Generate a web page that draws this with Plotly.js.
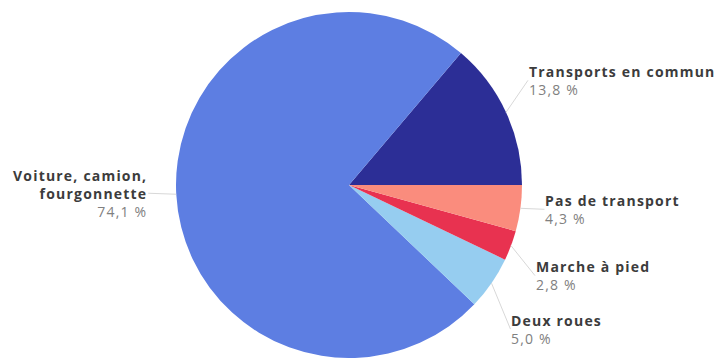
<!DOCTYPE html>
<html>
<head>
<meta charset="utf-8">
<script src="https://cdn.plot.ly/plotly-3.0.1.min.js"></script>
<style>
  html, body { margin: 0; padding: 0; background: #fff; }
  #chart { width: 722px; height: 358px; }
  .annotation-text { letter-spacing: 1.2px; }
</style>
</head>
<body>
<div id="chart"></div>
<script>
// Data (counterclockwise from 3 o'clock)
const categories = ["Transports en commun", "Voiture, camion,<br>fourgonnette", "Deux roues", "Marche à pied", "Pas de transport"];
const values = [13.8, 74.1, 5.0, 2.8, 4.3];
const valueLabels = ["13,8 %", "74,1 %", "5,0 %", "2,8 %", "4,3 %"];
const colors = ["#2c2e96", "#5d7ee2", "#96cdf0", "#e83250", "#fa8c7d"];

// Label layout (pixel offsets from slice edge to label)
const labelOffsets = [
  {ax: 22, ay: -32, side: "left"},
  {ax: -28, ay: -1, side: "right"},
  {ax: 19, ay: 46, side: "left"},
  {ax: 24, ay: 30, side: "left"},
  {ax: 24, ay: 1, side: "left"}
];

const W = 722, H = 358;
const domX = [176 / W, 522 / W];
const domY = [0, 1 - 12 / H];

const cxPx = (domX[0] + domX[1]) / 2 * W;
const cyPx = H - (domY[0] + domY[1]) / 2 * H;
const rPx = Math.min((domX[1] - domX[0]) * W, (domY[1] - domY[0]) * H) / 2;

const total = values.reduce((a, b) => a + b, 0);
let cum = 0;
const annotations = values.map((v, i) => {
  const mid = (cum + v / 2) / total * 2 * Math.PI;
  cum += v;
  const px = cxPx + rPx * Math.cos(mid);
  const py = cyPx - rPx * Math.sin(mid);
  const o = labelOffsets[i];
  return {
    xref: "paper", yref: "paper",
    x: px / W, y: 1 - py / H,
    ax: o.ax, ay: o.ay,
    showarrow: true, arrowhead: 0, arrowwidth: 1, arrowcolor: "#d8d8d8",
    xanchor: o.side, yanchor: "middle",
    align: o.side,
    borderpad: 0,
    text: "<b>" + categories[i] + "</b><br><span style=\"color:#808080\">" + valueLabels[i] + "</span>",
    font: {family: "Open Sans, sans-serif", size: 14, color: "#3c3c3c"}
  };
});

// Plotly's counterclockwise mode places the first slice clockwise of `rotation`;
// shift so the first slice starts at 3 o'clock and opens counterclockwise.
const rotation = 90 - values[0] / total * 360;

const trace = {
  type: "pie",
  labels: categories,
  values: values,
  sort: false,
  direction: "counterclockwise",
  rotation: rotation,
  textinfo: "none",
  hoverinfo: "label+percent",
  marker: {colors: colors, line: {width: 0}},
  domain: {x: domX, y: domY},
  showlegend: false
};

const layout = {
  width: W, height: H,
  margin: {l: 0, r: 0, t: 0, b: 0},
  paper_bgcolor: "#fff",
  plot_bgcolor: "#fff",
  showlegend: false,
  annotations: annotations
};

Plotly.newPlot("chart", [trace], layout, {displayModeBar: false, staticPlot: true});
</script>
</body>
</html>
